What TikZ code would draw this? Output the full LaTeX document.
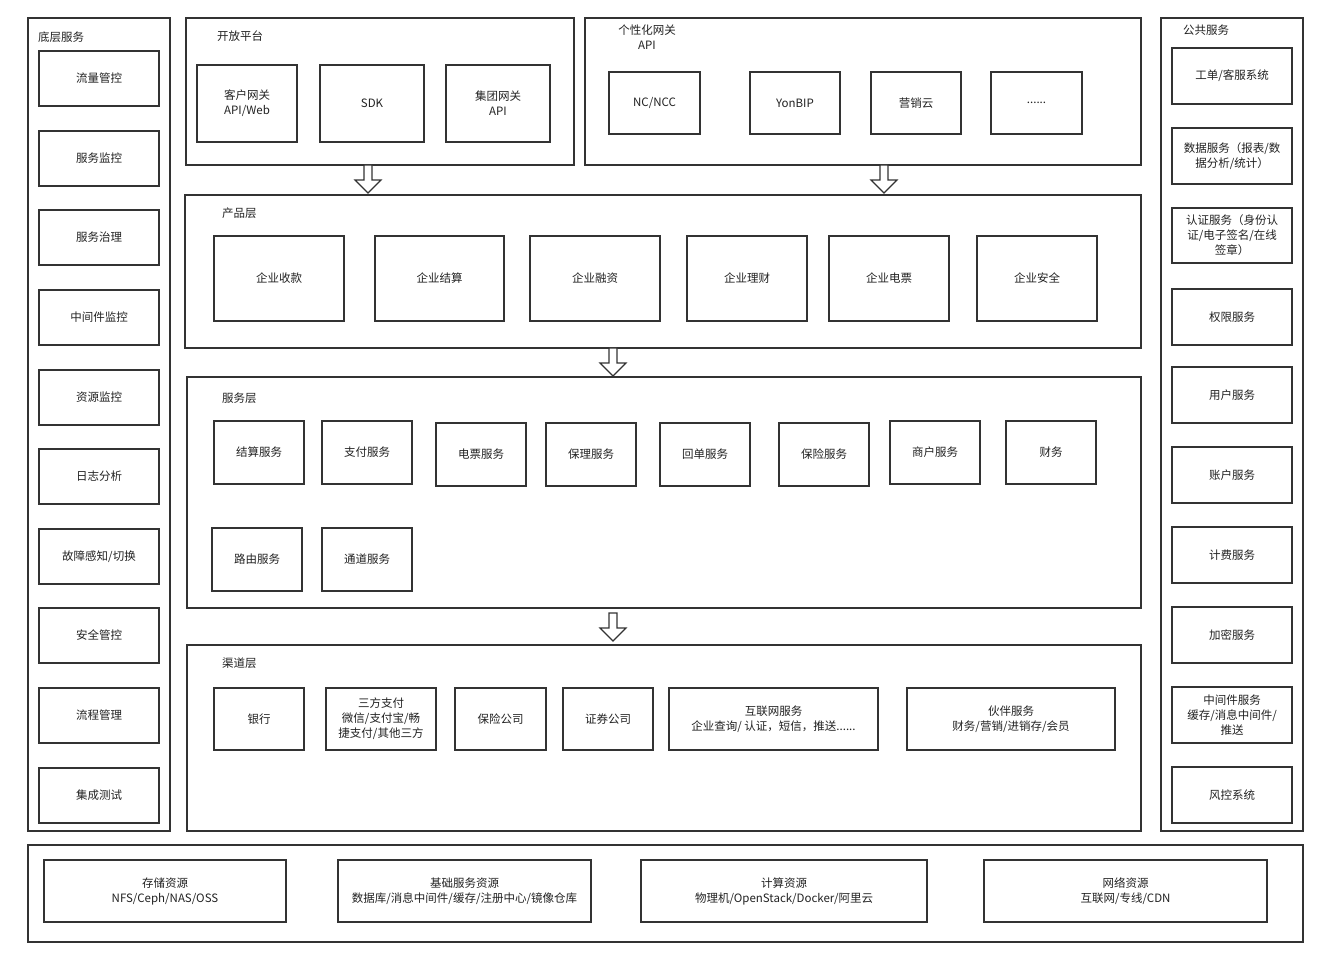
\documentclass[tikz,border=0pt]{standalone}
\usepackage{fontspec}
\setmainfont{Noto Sans CJK SC}
\usetikzlibrary{calc}
\definecolor{ln}{HTML}{333333}
\definecolor{tx}{HTML}{222222}
\tikzset{
  box/.style={draw=ln, line width=1.2pt, fill=white, inner sep=1pt, outer sep=0pt, align=center, font=\fontsize{11.5}{15}\selectfont, text=tx},
  ttl/.style={inner sep=0pt, anchor=west, align=center, font=\fontsize{11.5}{15}\selectfont, text=tx},
  blockarr/.style={draw=ln, line width=1.2pt, fill=white, line join=miter}
}
\newcommand\bx[6]{\node[box, anchor=north west, minimum width={(#4-#2)*1pt}, minimum height={(#5-#3)*1pt}] (#1) at (#2,#3) {#6};}
\newcommand\barr[1]{\draw[blockarr] ($(#1)+(-4,0)$) -- ++(8,0) -- ++(0,15) -- ++(9,0) -- ++(-13,13) -- ++(-13,-13) -- ++(9,0) -- cycle;}
\begin{document}
\begin{tikzpicture}[x=1pt,y=-1pt]
\useasboundingbox (0,0) rectangle (1323,957);
% left column
\bx{left}{28}{18}{170}{831}{}
\node[ttl] (lefttitle) at (38,37) {底层服务};
\bx{l1}{39}{51}{159}{106}{流量管控}
\bx{l2}{39}{131}{159}{186}{服务监控}
\bx{l3}{39}{210}{159}{265}{服务治理}
\bx{l4}{39}{290}{159}{345}{中间件监控}
\bx{l5}{39}{370}{159}{425}{资源监控}
\bx{l6}{39}{449}{159}{504}{日志分析}
\bx{l7}{39}{529}{159}{584}{故障感知/切换}
\bx{l8}{39}{608}{159}{663}{安全管控}
\bx{l9}{39}{688}{159}{743}{流程管理}
\bx{l10}{39}{768}{159}{823}{集成测试}
% open platform
\bx{open}{186}{18}{574}{165}{}
\node[ttl] (opentitle) at (217,36) {开放平台};
\bx{o1}{197}{65}{297}{142}{客户网关\\API/Web}
\bx{o2}{320}{65}{424}{142}{SDK}
\bx{o3}{446}{65}{550}{142}{集团网关\\API}
% personalized gateway
\bx{gw}{585}{18}{1141}{165}{}
\node[inner sep=0pt, align=center, font=\fontsize{11.5}{15}\selectfont, text=tx] (gwtitle) at (647,37) {个性化网关\\API};
\bx{g1}{609}{72}{700}{134}{NC/NCC}
\bx{g2}{750}{72}{840}{134}{YonBIP}
\bx{g3}{871}{72}{961}{134}{营销云}
\bx{g4}{991}{72}{1082}{134}{......}
% product layer
\bx{prod}{185}{195}{1141}{348}{}
\node[ttl] (prodtitle) at (222,213) {产品层};
\bx{p1}{214}{236}{344}{321}{企业收款}
\bx{p2}{375}{236}{504}{321}{企业结算}
\bx{p3}{530}{236}{660}{321}{企业融资}
\bx{p4}{687}{236}{807}{321}{企业理财}
\bx{p5}{829}{236}{949}{321}{企业电票}
\bx{p6}{977}{236}{1097}{321}{企业安全}
% service layer
\bx{svc}{187}{377}{1141}{608}{}
\node[ttl] (svctitle) at (222,398) {服务层};
\bx{s1}{214}{421}{304}{484}{结算服务}
\bx{s2}{322}{421}{412}{484}{支付服务}
\bx{s3}{436}{423}{526}{486}{电票服务}
\bx{s4}{546}{423}{636}{486}{保理服务}
\bx{s5}{660}{423}{750}{486}{回单服务}
\bx{s6}{779}{423}{869}{486}{保险服务}
\bx{s7}{890}{421}{980}{484}{商户服务}
\bx{s8}{1006}{421}{1096}{484}{财务}
\bx{s9}{212}{528}{302}{591}{路由服务}
\bx{s10}{322}{528}{412}{591}{通道服务}
% channel layer
\bx{chn}{187}{645}{1141}{831}{}
\node[ttl] (chntitle) at (222,663) {渠道层};
\bx{c1}{214}{688}{304}{750}{银行}
\bx{c2}{326}{688}{436}{750}{三方支付\\微信/支付宝/畅\\捷支付/其他三方}
\bx{c3}{455}{688}{546}{750}{保险公司}
\bx{c4}{563}{688}{653}{750}{证券公司}
\bx{c5}{669}{688}{878}{750}{互联网服务\\企业查询/ 认证，短信，推送......}
\bx{c6}{907}{688}{1115}{750}{伙伴服务\\财务/营销/进销存/会员}
% right column
\bx{right}{1161}{18}{1303}{831}{}
\node[ttl] (righttitle) at (1183,30) {公共服务};
\bx{r1}{1172}{48}{1292}{104}{工单/客服系统}
\bx{r2}{1172}{128}{1292}{184}{数据服务（报表/数\\据分析/统计）}
\bx{r3}{1172}{208}{1292}{263}{认证服务（身份认\\证/电子签名/在线\\签章）}
\bx{r4}{1172}{289}{1292}{345}{权限服务}
\bx{r5}{1172}{367}{1292}{423}{用户服务}
\bx{r6}{1172}{447}{1292}{503}{账户服务}
\bx{r7}{1172}{527}{1292}{583}{计费服务}
\bx{r8}{1172}{607}{1292}{663}{加密服务}
\bx{r9}{1172}{687}{1292}{743}{中间件服务\\缓存/消息中间件/\\推送}
\bx{r10}{1172}{767}{1292}{823}{风控系统}
% bottom
\bx{base}{28}{845}{1303}{942}{}
\bx{b1}{44}{860}{286}{922}{存储资源\\NFS/Ceph/NAS/OSS}
\bx{b2}{338}{860}{591}{922}{基础服务资源\\数据库/消息中间件/缓存/注册中心/镜像仓库}
\bx{b3}{641}{860}{927}{922}{计算资源\\物理机/OpenStack/Docker/阿里云}
\bx{b4}{984}{860}{1267}{922}{网络资源\\互联网/专线/CDN}
% arrows
\coordinate (a1) at (368,0 |- open.south);
\coordinate (a2) at (884,0 |- gw.south);
\coordinate (a3) at (613,0 |- prod.south);
\coordinate (a4) at ($(613,0 |- svc.south)+(0,5)$);
\barr{a1}
\barr{a2}
\barr{a3}
\barr{a4}
\end{tikzpicture}
\end{document}
